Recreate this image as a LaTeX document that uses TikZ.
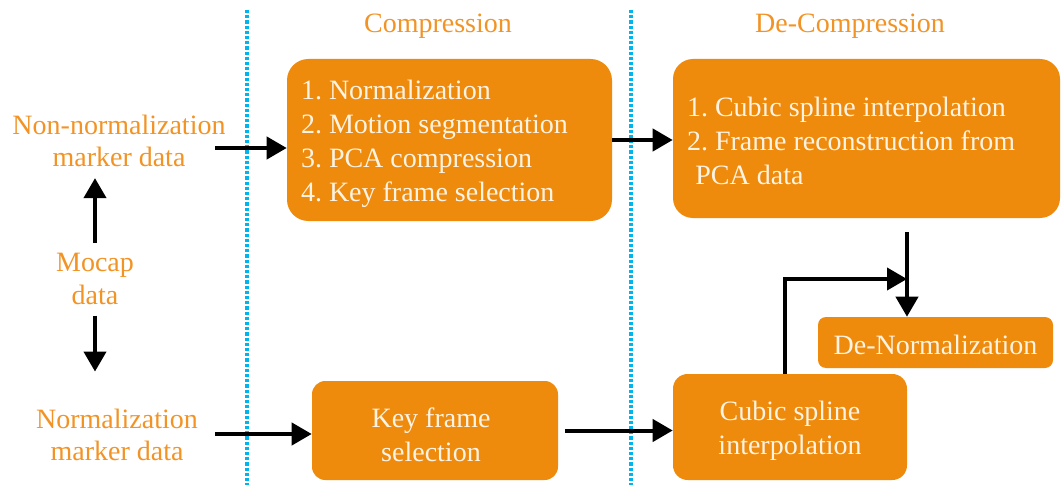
\documentclass[tikz,border=0pt]{standalone}
\usepackage{fontspec}
\setmainfont{Liberation Serif}
\usetikzlibrary{arrows.meta}
\definecolor{boxfill}{HTML}{EE8A0C}
\definecolor{boxtext}{HTML}{FFF4E4}
\definecolor{labtext}{HTML}{F29325}
\definecolor{divider}{HTML}{00B4EE}
\frenchspacing
\tikzset{
  stagebox/.style={fill=boxfill, inner sep=0pt},
  stagetext/.style={text=boxtext, inner sep=0pt,
    font=\fontsize{21}{25.6}\selectfont},
  lbl/.style={text=labtext, align=center, inner sep=0pt,
    font=\fontsize{21}{24.5}\selectfont},
  flow/.style={line width=3pt, -{Triangle[length=15pt,width=16.5pt]}},
  sep/.style={divider, line width=2.6pt, dash pattern=on 2.4pt off 1.5pt}
}
\begin{document}
\begin{tikzpicture}[x=0.75pt,y=-0.75pt]
\path[use as bounding box] (0,0) rectangle (1061,485);

% section dividers
\draw[sep] (247,10) -- (247,485);
\draw[sep] (631,10) -- (631,485);

% section titles
\node[lbl] (tcomp) at (438,26) {Compression};
\node[lbl] (tdecomp) at (850,26) {De-Compression};

% input labels
\node[lbl] (nonnorm) at (119,141) {Non-normalization\\marker data};
\node[lbl] (mocap) at (95,279) {Mocap\\data};
\node[lbl] (norm) at (117,435) {Normalization\\marker data};

% processing boxes
\node[stagebox, rounded corners=16pt, minimum width=243.75pt, minimum height=121.5pt] (comp) at (449.5,140) {};
\node[stagebox, rounded corners=15pt, minimum width=290.25pt, minimum height=119.25pt] (decomp) at (866.5,138.5) {};
\node[stagebox, rounded corners=10pt, minimum width=184.5pt, minimum height=74.25pt] (kf) at (435,430.5) {};
\node[stagebox, rounded corners=11pt, minimum width=175.5pt, minimum height=79.5pt] (cs) at (790,427) {};
\node[stagebox, rounded corners=6pt, minimum width=176.25pt, minimum height=38.25pt] (dn) at (935.5,342.5) {};

% box contents
\node[stagetext, align=left, anchor=west] (comptxt) at ([xshift=10.5pt,yshift=-3pt]comp.west)
  {1. Normalization\\2. Motion segmentation\\3. PCA compression\\4. Key frame selection};
\node[stagetext, align=left, anchor=west] (decomptxt) at ([xshift=10.5pt,yshift=-2pt]decomp.west)
  {1. Cubic spline interpolation\\2. Frame reconstruction from\\\hspace*{0.3em}PCA data};
\node[stagetext, align=center] (kftxt) at ([xshift=-3pt,yshift=-3pt]kf.center) {Key frame\\selection};
\node[stagetext, align=center] (cstxt) at ([yshift=-3pt]cs.center) {Cubic spline\\interpolation};
\node[stagetext, align=center] (dntxt) at ([yshift=-1.5pt]dn.center) {De-Normalization};

% junction above the de-normalization box
\coordinate (j) at (907,279);
\coordinate (s1) at (215,148);
\coordinate (s2) at (215,434);

% connectors
\draw[flow] (s1) -- (s1 -| comp.west);
\draw[flow] (s2) -- (s2 -| kf.west);
\draw[flow] (comp.east) -- (comp.east -| decomp.west);
\draw[flow] ([xshift=5pt]kf.east) -- (kf.east -| cs.west);
\draw[flow] ([yshift=7.5pt]mocap.north) -- ([yshift=-8pt]mocap.north |- nonnorm.south);
\draw[flow] ([yshift=-8pt]mocap.south) -- ([yshift=-50pt]mocap.south);
\draw[flow] ([yshift=-10.5pt]decomp.south -| j) -- (j |- dn.north);
\draw[flow] ([xshift=-3.75pt]cs.north) |- (j);
\end{tikzpicture}
\end{document}
